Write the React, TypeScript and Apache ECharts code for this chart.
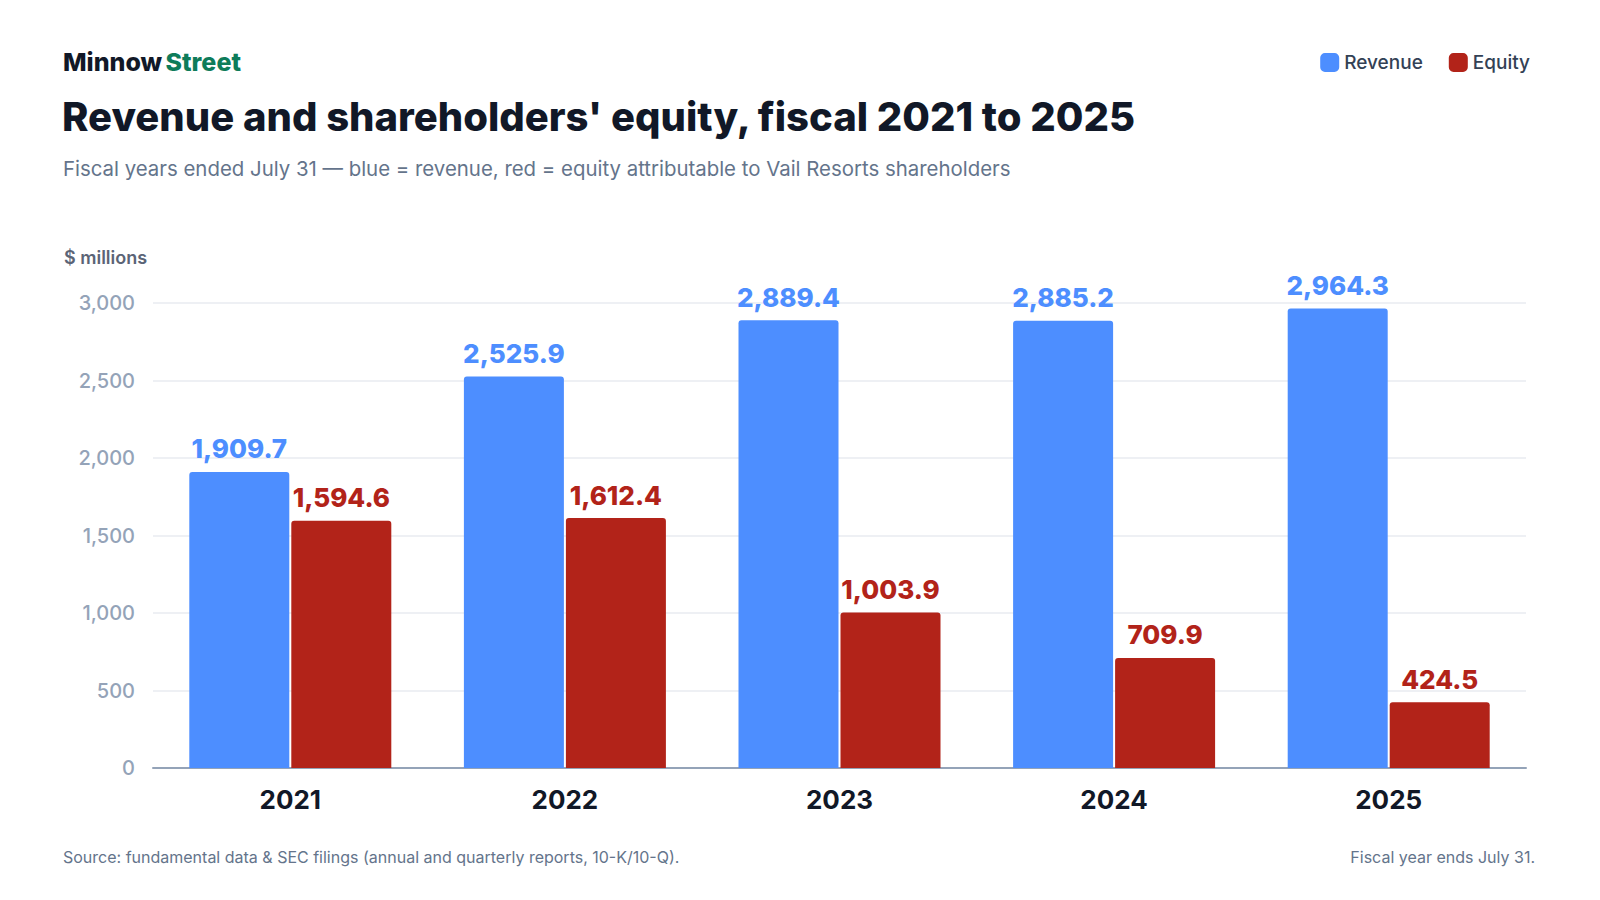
import React, { useEffect, useRef } from 'react';
import * as echarts from 'echarts';

const years = ['2021', '2022', '2023', '2024', '2025'];
const revenue = [1909.7, 2525.9, 2889.4, 2885.2, 2964.3];
const equity = [1594.6, 1612.4, 1003.9, 709.9, 424.5];
const yTicks = [0, 500, 1000, 1500, 2000, 2500, 3000];

const BLUE = '#4D8EFF';
const RED = '#B22319';
const FONT = 'Inter, "Noto Sans", sans-serif';

const fmt = (v: number) =>
  v.toLocaleString('en-US', { minimumFractionDigits: 1, maximumFractionDigits: 1 });

const App: React.FC = () => {
  const chartRef = useRef<HTMLDivElement>(null);

  useEffect(() => {
    document.body.style.margin = '0';
    if (!chartRef.current) return;
    const myChart = echarts.init(chartRef.current, undefined, { renderer: 'svg' });

    const barLabel = (color: string) => ({
      show: true,
      position: 'top',
      distance: 10,
      color,
      fontSize: 26,
      fontWeight: 800,
      fontFamily: FONT,
      formatter: (p: any) => fmt(p.value),
    });

    const option = {
      animation: false,
      backgroundColor: '#ffffff',
      textStyle: { fontFamily: FONT },
      grid: { left: 153, right: 74, top: 303, bottom: 132 },
      legend: {
        right: 65,
        top: 48,
        itemWidth: 19,
        itemHeight: 19,
        itemGap: 26,
        icon: 'roundRect',
        textStyle: { fontSize: 19, color: '#334155', fontFamily: FONT, fontWeight: 500 },
        data: ['Revenue', 'Equity'],
      },
      graphic: [
        {
          type: 'text',
          left: 63,
          top: 49,
          style: {
            text: '{a|Minnow} {b|Street}',
            rich: {
              a: { fontSize: 25, fontWeight: 800, fill: '#111827', fontFamily: FONT },
              b: { fontSize: 25, fontWeight: 800, fill: '#0E7C5A', fontFamily: FONT },
            },
          },
        },
        {
          type: 'text',
          left: 62,
          top: 96,
          style: {
            text: "Revenue and shareholders' equity, fiscal 2021 to 2025",
            fontSize: 40,
            fontWeight: 800,
            fill: '#111827',
            fontFamily: FONT,
          },
        },
        {
          type: 'text',
          left: 63,
          top: 158,
          style: {
            text: 'Fiscal years ended July 31 \u2014 blue = revenue, red = equity attributable to Vail Resorts shareholders',
            fontSize: 20.4,
            fill: '#64748B',
            fontFamily: FONT,
          },
        },
        {
          type: 'text',
          left: 64,
          top: 248,
          style: {
            text: '$ millions',
            fontSize: 18,
            fontWeight: 600,
            fill: '#5B6476',
            fontFamily: FONT,
          },
        },
        {
          type: 'text',
          left: 63,
          top: 849,
          style: {
            text: 'Source: fundamental data & SEC filings (annual and quarterly reports, 10-K/10-Q).',
            fontSize: 16,
            fill: '#64748B',
            fontFamily: FONT,
          },
        },
        {
          type: 'text',
          right: 65,
          top: 849,
          style: {
            text: 'Fiscal year ends July 31.',
            fontSize: 16,
            fill: '#64748B',
            fontFamily: FONT,
          },
        },
      ],
      xAxis: {
        type: 'category',
        data: years,
        axisLine: { lineStyle: { color: '#94A3B8', width: 2 } },
        axisTick: { show: false },
        axisLabel: {
          color: '#111827',
          fontSize: 26,
          fontWeight: 'bold',
          fontFamily: FONT,
          margin: 18,
        },
      },
      yAxis: {
        type: 'value',
        min: yTicks[0],
        max: yTicks[yTicks.length - 1],
        interval: 500,
        axisLine: { show: false },
        axisTick: { show: false },
        splitLine: { lineStyle: { color: '#E8EBF0', width: 1.5 } },
        axisLabel: {
          color: '#94A3B8',
          fontSize: 20,
          fontWeight: 500,
          fontFamily: FONT,
          margin: 18,
          formatter: (v: number) => v.toLocaleString('en-US'),
        },
      },
      series: [
        {
          name: 'Revenue',
          type: 'bar',
          data: revenue,
          barWidth: 100,
          barGap: '2%',
          itemStyle: { color: BLUE, borderRadius: [3, 3, 0, 0] },
          label: barLabel(BLUE),
        },
        {
          name: 'Equity',
          type: 'bar',
          data: equity,
          barWidth: 100,
          itemStyle: { color: RED, borderRadius: [3, 3, 0, 0] },
          label: barLabel(RED),
        },
      ],
    };

    myChart.setOption(option as any);
    return () => {
      myChart.dispose();
    };
  }, []);

  return <div ref={chartRef} style={{ width: 1600, height: 900 }}></div>;
};

export default App;
